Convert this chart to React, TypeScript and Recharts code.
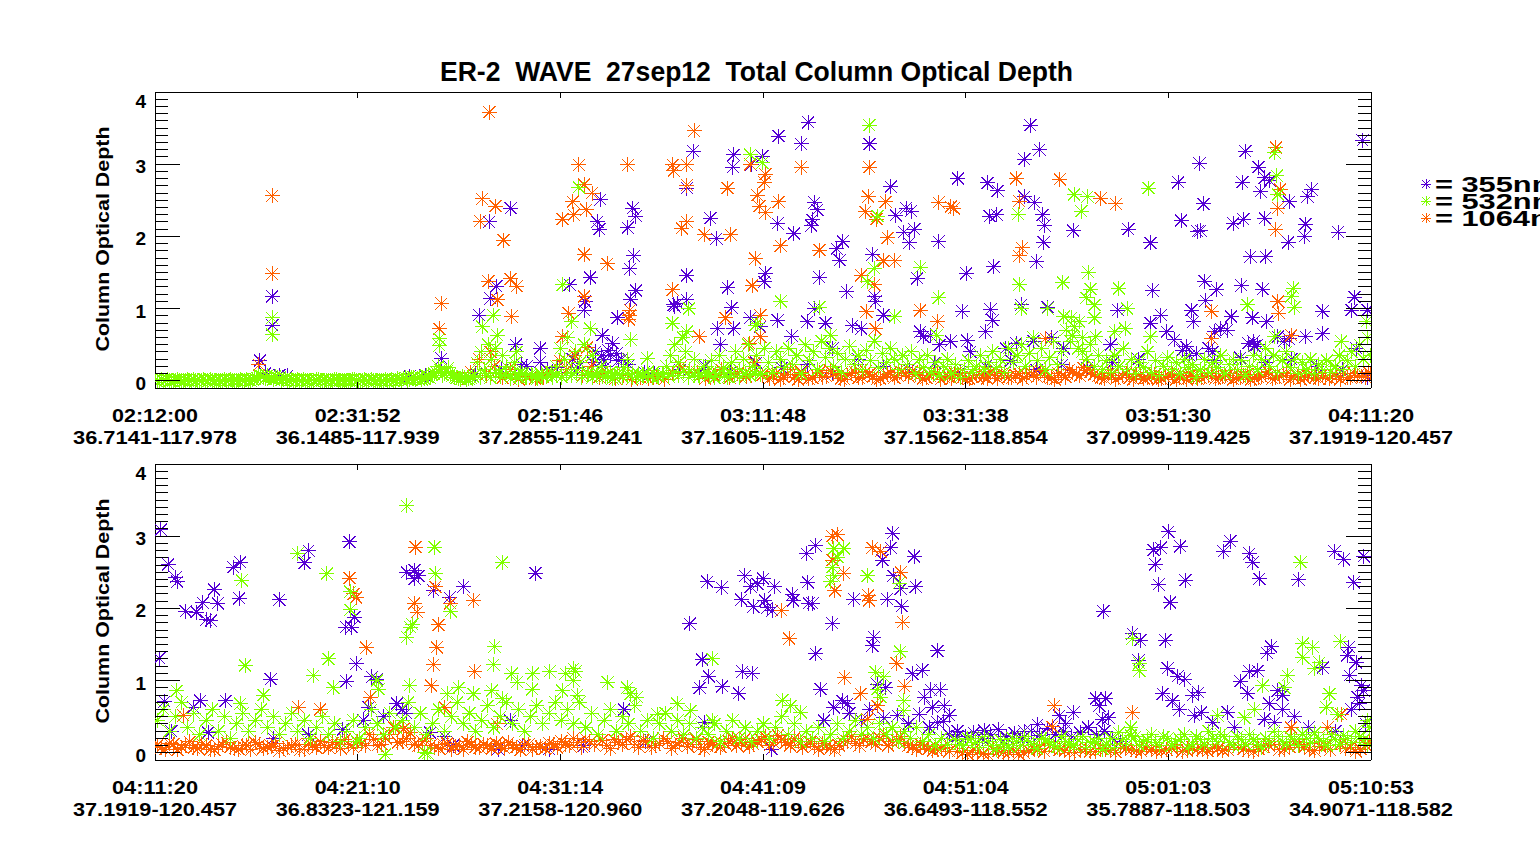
import React from 'react';
import { ScatterChart, Scatter, XAxis, YAxis, ReferenceLine } from 'recharts';

type Pt = [number, number];

// tick labels (time + lat/lon), evenly spaced along each panel
const TOP_TIMES = ['02:12:00', '02:31:52', '02:51:46', '03:11:48', '03:31:38', '03:51:30', '04:11:20'];
const TOP_PLACES = ['36.7141-117.978', '36.1485-117.939', '37.2855-119.241', '37.1605-119.152', '37.1562-118.854', '37.0999-119.425', '37.1919-120.457'];
const BOT_TIMES = ['04:11:20', '04:21:10', '04:31:14', '04:41:09', '04:51:04', '05:01:03', '05:10:53'];
const BOT_PLACES = ['37.1919-120.457', '36.8323-121.159', '37.2158-120.960', '37.2048-119.626', '36.6493-118.552', '35.7887-118.503', '34.9071-118.582'];
// minutes covered by each panel
const TOP_SPAN = 119.33;
const BOT_SPAN = 59.55;
const Y_MAJOR = [0, 1, 2, 3, 4];

const WAVELENGTHS = ['355nm', '532nm', '1064nm'];
const COLORS = ['#5500d4', '#80ff00', '#ff6000'];

// [minutes since panel start, optical depth]
const TOP_355: Pt[] = [
  [10.3,0.28],[10.8,0.1],[11.5,1.17],[11.5,0.77],[12.2,0.08],[13.0,0.07],[25.0,0.06],[26.5,0.07],[28.1,0.31],
  [31.8,0.91],[32.8,2.2],[32.9,1.14],[33.5,1.31],[34.9,2.39],[35.4,0.5],[37.8,0.45],[37.8,0.26],[40.7,1.33],[42.1,0.98],[42.2,1.1],
  [42.7,1.43],[43.4,2.2],[43.6,2.1],[43.7,2.51],[43.9,0.63],[44.7,0.35],[44.9,0.52],[45.4,0.87],[46.4,2.12],[46.6,1.55],
  [46.7,1.13],[46.9,2.39],[47.0,1.73],[47.2,2.28],[47.2,1.25],[50.9,1.05],[51.0,1.03],[51.3,1.07],[52.2,2.67],[52.2,1.46],
  [52.2,1.12],[52.8,3.18],[54.5,2.25],[55.1,1.97],[55.2,0.72],[55.5,0.5],[56.2,1.29],[56.6,1.01],[56.7,2.96],[56.8,3.13],
  [56.8,0.72],[58.4,0.87],[58.5,2.99],
  [36.0,0.22],[38.5,0.15],[39.5,0.18],[41.0,0.3],[43.0,0.25],[43.2,0.4],[43.8,0.35],[44.2,0.2],[44.5,0.42],[45.3,0.38],
  [45.5,0.28],[45.8,0.3],[48.0,0.12],
  [59.4,0.75],[59.6,3.11],[59.8,1.37],[59.9,1.49],[61.1,2.18],[61.1,0.84],[61.2,3.39],[62.5,0.62],[62.7,2.04],[63.4,3.28],
  [64.0,0.82],[64.1,3.58],[64.4,2.15],[64.5,2.23],[64.7,2.47],[64.7,1.0],[65.0,2.37],[65.2,1.43],[65.8,0.8],[66.5,0.45],
  [66.9,1.83],[67.2,1.67],[67.5,1.93],[67.9,1.23],[68.4,0.76],[69.3,0.72],[70.1,3.28],[70.4,1.75],[70.6,1.17],[70.7,1.1],
  [71.5,0.91],[72.2,2.69],[72.7,2.29],[73.5,2.06],[73.7,2.39],[74.0,1.91],[74.2,2.35],[74.5,2.1],[74.8,1.42],[75.1,0.68],
  [75.4,0.61],[76.1,0.63],[76.9,1.93],[77.0,0.5],[78.1,0.545],[78.8,2.8],[79.2,0.965],[79.6,1.49],[79.7,0.555],[80.0,0.4],
  [81.5,0.68],[81.7,2.74],[81.9,2.28],[82.0,0.99],[82.2,0.84],[82.3,1.58],[82.6,2.3],[82.7,2.63],[83.5,0.45],[84.5,0.52],
  [85.0,1.05],[85.3,3.07],[85.3,2.55],[85.9,3.54],[86.2,0.55],[86.3,2.47],[86.5,1.65],[86.8,3.2],[87.1,2.3],[87.2,1.92],
  [87.3,2.15],[87.6,1.02],[88.0,0.6],
  [89.2,0.45],[90.1,2.08],[93.8,0.5],[94.5,0.98],[95.5,2.1],[97.7,1.91],[97.7,0.8],[97.9,1.25],[98.7,0.91],[99.3,0.68],
  [100.0,0.565],[100.4,2.75],[100.7,2.22],[100.8,0.42],[101.2,0.47],[101.7,0.98],[101.9,0.82],[102.2,0.38],[102.3,2.07],[102.5,3.01],
  [102.6,2.08],[102.9,2.45],[103.0,1.38],[103.1,1.11],[103.4,0.45],[103.8,0.4],[104.0,0.68],[104.2,1.26],[104.6,0.72],[105.2,0.7],
  [105.6,0.89],[105.8,2.18],[106.6,1.32],[106.7,2.75],[106.8,2.24],[107.0,3.18],[107.3,0.52],[107.5,1.72],[107.7,0.87],[107.8,0.545],
  [107.9,0.48],[108.2,0.5],[108.3,2.96],[108.5,2.62],[108.7,1.27],[108.9,2.81],[108.9,2.25],[109.0,1.72],[109.1,0.82],[109.4,2.77],
  [110.2,0.61],[110.8,0.55],[111.2,1.92],[111.3,2.48],[111.3,0.58],[111.7,1.28],[112.8,2.0],[112.9,2.17],[112.9,0.61],[113.1,2.55],
  [113.5,2.65],[114.6,0.965],[114.6,0.65],[116.1,2.06],[117.4,0.98],[117.7,1.16],[117.9,0.45],[118.5,3.33],[119.0,0.98],
  [31.5,0.1],[34.0,0.15],[36.5,0.2],[39.0,0.12],[41.5,0.18],[44.0,0.3],[46.5,0.22],[49.0,0.1],[51.5,0.15],[54.0,0.2],
  [56.5,0.12],[59.0,0.25],[61.5,0.18],[64.0,0.22],[66.5,0.1],[69.0,0.3],[71.5,0.2],[74.0,0.15],[76.5,0.25],[79.0,0.12],
  [81.5,0.2],[84.0,0.28],[86.5,0.15],[89.0,0.22],[91.5,0.18],[94.0,0.25],[96.5,0.3],[99.0,0.2],[101.5,0.35],[104.0,0.28],
  [106.5,0.32],[109.0,0.25],[111.5,0.3],[114.0,0.2],[116.5,0.15],[119.0,0.05],
];

const TOP_532: Pt[] = [
  [11.5,0.87],[11.5,0.64],[27.9,0.58],[27.9,0.49],
  [32.1,0.75],[33.2,0.91],[33.6,0.63],[35.5,0.4],[40.0,1.33],[40.9,0.82],[41.6,2.68],[42.7,0.72],[46.7,0.565],[48.3,0.31],
  [50.8,0.8],[52.2,0.68],[52.4,1.0],[58.4,3.13],[58.9,0.77],
  [59.1,0.8],[59.6,3.02],[61.4,1.1],[65.2,1.02],[66.3,0.63],[69.9,1.37],[70.1,3.54],[70.6,1.56],[70.9,2.28],[72.6,0.89],
  [75.1,1.57],[76.7,0.63],[76.9,1.15],[84.7,2.31],[84.8,1.33],[85.0,1.0],[87.6,1.0],[89.1,1.36],[89.2,0.89],
  [89.9,0.87],[90.0,0.63],[90.2,2.58],[90.7,0.82],[90.9,2.35],[91.0,0.4],[91.4,1.15],[91.5,2.55],[91.6,1.5],[91.8,1.27],
  [92.2,1.05],[92.2,0.87],[92.3,0.61],[94.2,0.68],[94.6,1.28],[95.2,0.72],[95.4,1.0],[97.5,2.67],[97.7,0.61],[107.2,1.05],
  [109.9,3.16],[109.9,0.61],[110.1,2.84],[110.2,2.58],[111.5,1.17],[111.7,1.28],[111.8,1.02],[116.4,0.545],[118.9,0.82],
  // flat stretch at the start of the flight
  [0,0.01],[0.4,0],[0.8,0.01],[1.2,0.02],[1.6,0],[2,0.01],[2.4,0.01],[2.8,0],[3.2,0.02],[3.6,0.01],
  [4,0],[4.4,0.01],[4.8,0.02],[5.2,0],[5.6,0.01],[6,0.01],[6.4,0],[6.8,0.02],[7.2,0.01],[7.6,0],
  [8,0.01],[8.4,0.02],[8.8,0],[9.2,0.01],[9.6,0.02],[10,0.04],[10.4,0.06],[10.8,0.03],[11.2,0.05],[11.6,0.02],
  [12,0.04],[12.4,0.01],[12.8,0.03],[13.2,0],[13.6,0.01],[14,0.02],[14.4,0],[14.8,0.01],[15.2,0.01],[15.6,0],
  [16,0.02],[16.4,0.01],[16.8,0],[17.2,0.01],[17.6,0.02],[18,0],[18.4,0.01],[18.8,0.01],[19.2,0],[19.6,0.02],
  [20,0.01],[20.4,0],[20.8,0.01],[21.2,0.02],[21.6,0],[22,0.01],[22.4,0.01],[22.8,0],[23.2,0.02],[23.6,0.01],
  [24,0.02],[24.4,0.03],[24.8,0.01],[25.2,0.04],[25.6,0.02],[26,0.05],[26.4,0.03],[26.8,0.06],[27.2,0.08],[27.6,0.12],
  [28,0.15],[28.4,0.1],[28.8,0.18],[29.2,0.07],[29.6,0.04],[30,0.02],[30.4,0.05],[30.8,0.03],
  [0.2,0],[0.6,0.02],[1.0,0.01],[1.4,0],[1.8,0.01],[2.2,0.02],[2.6,0],[3.0,0.01],[3.4,0],[3.8,0.02],
  [4.2,0.01],[4.6,0],[5.0,0.01],[5.4,0.02],[5.8,0],[6.2,0.01],[6.6,0.01],[7.0,0],[7.4,0.02],[7.8,0.01],
  [8.2,0],[8.6,0.01],[9.0,0.02],[9.4,0],[9.8,0.03],[10.2,0.08],[10.6,0.05],[11.0,0.07],[11.4,0.04],[11.8,0.06],
  [12.2,0.03],[12.6,0.02],[13.0,0.01],[13.4,0.02],[13.8,0],[14.2,0.01],[14.6,0.02],[15.0,0],[15.4,0.01],[15.8,0.02],
  [16.2,0],[16.6,0.01],[17.0,0.01],[17.4,0],[17.8,0.02],[18.2,0.01],[18.6,0],[19.0,0.01],[19.4,0.02],[19.8,0],
  [20.2,0.01],[20.6,0.02],[21.0,0],[21.4,0.01],[21.8,0.01],[22.2,0],[22.6,0.02],[23.0,0.01],[23.4,0],[23.8,0.03],
  [24.2,0.01],[24.6,0.04],[25.0,0.02],[25.4,0.05],[25.8,0.03],[26.2,0.02],[26.6,0.07],[27.0,0.04],[27.4,0.1],[27.8,0.2],
  [28.2,0.08],[28.6,0.13],[29.0,0.1],[29.4,0.05],[29.8,0.03],[30.2,0.06],[30.6,0.02],[31.0,0.04],
  // dense low band
  [31.2,0.06],[31.6,0.25],[32.0,0.4],[32.3,0.15],[32.7,0.5],[33.0,0.3],[33.4,0.45],[33.8,0.12],[34.1,0.35],[34.5,0.2],
  [34.9,0.08],[35.3,0.25],[35.7,0.05],[36.1,0.1],[36.5,0.04],[37.0,0.08],[37.5,0.03],[38.0,0.06],[38.5,0.1],[39.0,0.05],
  [39.4,0.2],[39.8,0.45],[40.2,0.3],[40.5,0.6],[40.9,0.15],[41.3,0.4],[41.7,0.25],[42.1,0.5],[42.5,0.1],[42.9,0.35],
  [43.3,0.08],[43.8,0.2],[44.2,0.06],[44.7,0.12],[45.1,0.05],[45.6,0.09],[46.0,0.18],[46.4,0.3],[46.9,0.1],[47.3,0.05],
  [47.8,0.08],[48.3,0.12],[48.8,0.04],[49.3,0.07],[49.8,0.1],
  [31.4,0.08],[31.9,0.05],[32.4,0.1],[32.9,0.04],[33.4,0.12],[33.9,0.06],[34.4,0.09],[34.9,0.03],[35.4,0.07],[35.9,0.11],
  [36.4,0.05],[36.9,0.09],[37.4,0.04],[37.9,0.1],[38.4,0.06],[38.9,0.12],[39.4,0.08],[39.9,0.05],[40.4,0.1],[40.9,0.07],
  [41.4,0.12],[41.9,0.05],[42.4,0.09],[42.9,0.04],[43.4,0.11],[43.9,0.06],[44.4,0.08],[44.9,0.03],[45.4,0.1],[45.9,0.05],
  [46.4,0.09],[46.9,0.04],[47.4,0.1],[47.9,0.06],[48.4,0.08],[48.9,0.12],[49.4,0.05],[49.9,0.09],[50.4,0.06],[50.9,0.11],
  [51.4,0.07],[51.9,0.13],[52.4,0.05],[52.9,0.1],[53.4,0.06],[53.9,0.12],[54.4,0.08],[54.9,0.04],[55.4,0.1],[55.9,0.06],
  [56.4,0.12],[56.9,0.08],[57.4,0.05],[57.9,0.1],[58.4,0.07],[58.9,0.13],[59.4,0.09],
  [50.2,0.2],[50.6,0.35],[51.0,0.5],[51.4,0.25],[51.8,0.6],[52.1,0.4],[52.5,0.15],[52.9,0.3],[53.3,0.08],[53.8,0.2],
  [54.2,0.12],[54.6,0.28],[55.0,0.1],[55.4,0.35],[55.8,0.18],[56.2,0.05],[56.6,0.25],[57.0,0.4],[57.4,0.15],[57.8,0.3],
  [58.2,0.5],[58.6,0.2],[59.0,0.35],[59.4,0.1],[59.8,0.45],
  [60.2,0.25],[60.6,0.12],[61.0,0.4],[61.4,0.3],[61.8,0.18],[62.2,0.45],[62.6,0.22],[63.0,0.35],[63.4,0.1],[63.8,0.5],
  [64.2,0.28],[64.6,0.4],[65.0,0.15],[65.4,0.55],[65.8,0.32],[66.2,0.45],[66.6,0.2],[67.0,0.38],[67.4,0.12],[67.8,0.3],
  [68.2,0.48],[68.6,0.22],[69.0,0.35],[69.4,0.15],[69.8,0.42],[70.2,0.28],[70.6,0.55],[71.0,0.18],[71.4,0.38],[71.8,0.25],
  [72.2,0.45],[72.6,0.3],[73.0,0.15],[73.4,0.35],[73.8,0.22],[74.2,0.4],[74.6,0.1],[75.0,0.3],[75.4,0.18],[75.8,0.35],
  [76.2,0.12],[76.6,0.25],[77.0,0.08],[77.4,0.2],[77.8,0.3],[78.2,0.1],[78.6,0.22],[79.0,0.05],[79.4,0.15],[79.8,0.28],
  [80.2,0.12],[80.6,0.2],[81.0,0.35],[81.4,0.15],[81.8,0.25],[82.2,0.4],[82.6,0.18],[83.0,0.3],[83.4,0.12],[83.8,0.45],
  [84.2,0.25],[84.6,0.35],[85.0,0.5],[85.4,0.2],[85.8,0.38],[86.2,0.6],[86.6,0.28],[87.0,0.45],[87.4,0.15],[87.8,0.32],
  [88.2,0.55],[88.6,0.22],[89.0,0.4],[89.4,0.7],[89.8,0.55],[90.2,0.75],[90.6,0.45],[91.0,0.6],[91.4,0.3],[91.8,0.5],
  [92.2,0.2],[92.6,0.35],[93.0,0.15],
  [93.4,0.28],[93.8,0.12],[94.2,0.35],[94.6,0.2],[95.0,0.45],[95.4,0.15],[95.8,0.3],[96.2,0.1],[96.6,0.25],[97.0,0.18],
  [97.4,0.4],[97.8,0.12],[98.2,0.28],[98.6,0.08],[99.0,0.2],[99.4,0.32],[99.8,0.15],[100.2,0.25],[100.6,0.1],[101.0,0.3],
  [101.4,0.18],[101.8,0.22],[102.2,0.05],[102.6,0.15],[103.0,0.3],[103.4,0.12],[103.8,0.25],[104.2,0.18],[104.6,0.35],[105.0,0.1],
  [105.4,0.22],[105.8,0.3],[106.2,0.15],[106.6,0.28],[107.0,0.08],[107.4,0.2],[107.8,0.35],[108.2,0.15],[108.6,0.3],[109.0,0.45],
  [109.4,0.2],[109.8,0.35],[110.2,0.12],[110.6,0.28],[111.0,0.4],[111.4,0.18],[111.8,0.3],[112.2,0.1],[112.6,0.25],[113.0,0.15],
  [113.4,0.3],[113.8,0.1],[114.2,0.22],[114.6,0.15],[115.0,0.28],[115.4,0.12],[115.8,0.2],[116.2,0.35],[116.6,0.15],[117.0,0.28],
  [117.4,0.4],[117.8,0.2],[118.2,0.5],[118.6,0.3],[119.0,0.6],[119.3,0.35],
];

const TOP_1064: Pt[] = [
  [10.2,0.22],[11.5,2.56],[11.5,1.48],[27.9,0.72],[28.1,1.07],
  [31.9,2.21],[32.1,2.52],[32.7,1.38],[32.8,3.72],[32.9,0.4],[33.4,2.42],[33.6,1.12],[34.2,1.95],[34.9,1.41],[35.0,0.89],
  [35.5,1.31],[40.0,2.24],[40.0,0.61],[40.6,0.935],[41.0,2.48],[41.1,2.3],[41.6,2.99],[42.1,2.72],[42.1,1.75],[42.1,1.17],
  [42.3,2.37],[42.4,0.46],[42.9,2.6],[44.4,1.62],[46.4,2.99],[46.5,0.85],[46.6,0.98],[46.6,0.9],[50.8,2.99],[50.8,1.26],
  [50.9,2.91],[51.7,2.11],[52.2,2.99],[52.2,2.71],[52.2,2.2],[52.9,3.46],[53.4,0.61],[53.9,2.02],[56.0,0.87],[56.2,2.67],
  [56.5,2.02],[58.3,0.52],[58.4,3.0],[58.6,1.32],[58.9,1.69],
  [59.1,2.57],[59.3,2.42],[59.4,0.91],[59.4,0.61],[59.8,2.75],[59.9,2.86],[59.9,2.33],[61.2,2.48],[61.4,1.87],[63.4,2.96],
  [65.2,1.81],[69.3,1.46],[69.7,2.34],[69.8,0.955],[70.0,2.55],[70.1,2.96],[70.6,1.33],[70.7,0.72],[70.8,2.24],[71.5,1.66],
  [71.7,2.48],[71.9,1.98],[72.6,1.66],[75.1,0.975],[76.8,0.82],[76.9,2.47],[78.1,2.41],[78.4,2.39],[84.5,2.8],[84.8,2.49],
  [84.8,1.73],[85.1,1.84],[87.4,0.585],[88.8,2.79],
  [92.8,2.53],[94.3,2.45],[103.7,0.965],[103.7,0.585],[110.0,3.23],[110.0,2.09],[110.2,2.39],[110.2,1.1],[110.3,0.935],[110.4,2.65],
  [111.5,0.63],
  [30.2,0.05],[31.0,0.12],[31.8,0.3],[32.5,0.08],[33.3,0.2],[34.1,0.04],[34.9,0.15],[35.7,0.02],[36.5,0.06],[37.3,0.03],
  [38.1,0.05],[38.9,0.1],[39.7,0.28],[40.4,0.15],[41.2,0.35],[42.0,0.08],[42.8,0.2],[43.6,0.05],[44.4,0.1],[45.2,0.03],
  [46.0,0.08],[46.8,0.02],[47.6,0.05],[48.4,0.03],[49.2,0.06],[50.0,0.02],[50.8,0.1],[51.6,0.2],[52.4,0.05],[53.2,0.12],
  [54.0,0.03],[54.8,0.08],[55.6,0.15],[56.4,0.04],[57.2,0.1],[58.0,0.06],[58.8,0.25],[59.6,0.08],
  [60.3,0.03],[61.0,0.1],[61.7,0.05],[62.4,0.15],[63.1,0.02],[63.8,0.08],[64.5,0.04],[65.2,0.12],[65.9,0.06],[66.6,0.1],
  [67.3,0.03],[68.0,0.07],[68.7,0.12],[69.4,0.05],[70.1,0.09],[70.8,0.02],[71.5,0.06],[72.2,0.11],[72.9,0.07],[73.6,0.1],
  [74.3,0.13],[75.0,0.08],[75.7,0.04],[76.4,0.09],[77.1,0.02],[77.8,0.06],[78.5,0.1],[79.2,0.04],[79.9,0.03],[80.6,0.07],
  [81.3,0.05],[82.0,0.12],[82.7,0.03],[83.4,0.08],[84.1,0.04],[84.8,0.1],[85.5,0.06],[86.2,0.09],[86.9,0.14],[87.6,0.05],
  [88.3,0.02],[89.0,0.08],[89.7,0.15],[90.4,0.1],[91.1,0.18],[91.8,0.12],[92.5,0.06],[93.2,0.03],[93.9,0.08],[94.6,0.05],
  [95.3,0.1],[96.0,0.02],[96.7,0.06],[97.4,0.04],[98.1,0.09],[98.8,0.03],[99.5,0.07],[100.2,0.02],[100.9,0.05],[101.6,0.08],
  [102.3,0.03],[103.0,0.06],[103.7,0.1],[104.4,0.04],[105.1,0.07],[105.8,0.02],[106.5,0.05],[107.2,0.09],[107.9,0.03],[108.6,0.06],
  [109.3,0.12],[110.0,0.04],[110.7,0.08],[111.4,0.02],[112.1,0.06],[112.8,0.04],[113.5,0.09],[114.2,0.03],[114.9,0.05],[115.6,0.08],
  [116.3,0.02],[117.0,0.05],[117.7,0.1],[118.4,0.06],[119.1,0.12],
  [60.65,0.06],[61.35,0.02],[62.05,0.09],[62.75,0.05],[63.45,0.12],[64.15,0.03],[64.85,0.08],[65.55,0.05],[66.25,0.14],[66.95,0.07],
  [67.65,0.02],[68.35,0.1],[69.05,0.04],[69.75,0.13],[70.45,0.06],[71.15,0.03],[71.85,0.09],[72.55,0.04],[73.25,0.12],[73.95,0.06],
  [74.65,0.09],[75.35,0.03],[76.05,0.07],[76.75,0.11],[77.45,0.05],[78.15,0.03],[78.85,0.07],[79.55,0.02],[80.25,0.05],[80.95,0.09],
  [81.65,0.03],[82.35,0.07],[83.05,0.1],[83.75,0.05],[84.45,0.08],[85.15,0.03],[85.85,0.12],[86.55,0.05],[87.25,0.08],[87.95,0.04],
  [88.65,0.1],[89.35,0.05],[90.05,0.12],[90.75,0.07],[91.45,0.14],[92.15,0.09],[92.85,0.05],[93.55,0.1],[94.25,0.02],[94.95,0.07],
  [95.65,0.04],[96.35,0.09],[97.05,0.03],[97.75,0.06],[98.45,0.02],[99.15,0.05],[99.85,0.09],[100.55,0.04],[101.25,0.02],[101.95,0.06],
  [102.65,0.04],[103.35,0.08],[104.05,0.03],[104.75,0.06],[105.45,0.1],[106.15,0.04],[106.85,0.07],[107.55,0.02],[108.25,0.05],[108.95,0.09],
  [109.65,0.03],[110.35,0.06],[111.05,0.1],[111.75,0.05],[112.45,0.02],[113.15,0.07],[113.85,0.05],[114.55,0.08],[115.25,0.03],[115.95,0.06],
  [116.65,0.1],[117.35,0.04],[118.05,0.08],[118.75,0.05],[119.25,0.1],
];

const BOT_355: Pt[] = [
  [0.29,3.09],[0.65,2.61],[1.01,2.43],[1.09,2.37],[1.5,1.96],[2.04,1.95],[2.34,2.08],[2.5,1.84],[2.73,1.83],[2.89,2.26],
  [3.07,2.07],[3.84,2.57],[4.17,2.64],[4.12,2.14],[6.09,2.12],[7.32,2.63],[7.52,2.8],[9.53,2.92],[9.35,1.74],[9.64,1.74],
  [9.77,1.88],[9.85,1.23],[9.36,0.99],[12.34,2.5],[12.71,2.53],[12.71,2.41],[12.9,2.45],[13.64,2.25],[14.43,2.15],[15.11,2.3],
  [18.63,2.49],[0.21,1.31],[0.46,0.71],[5.67,1.02],[3.46,0.72],[2.21,0.72],[1.88,0.63],[10.62,1.05],[10.87,1.02],[10.46,0.63],
  [13.48,0.28],[17.4,0.445],[11.85,0.68],[12.3,0.55],[12.1,0.6],
  [0.8,0.3],[2.6,0.28],[5.8,0.2],[7.5,0.25],[9.2,0.32],[10.2,0.45],[11.2,0.5],[16.8,0.05],[19.3,0.05],[18.0,0.1],[14.2,0.22],
  [21.0,0.1],[24.0,0.15],[30.2,0.05],[14.6,0.1],
  [36.14,3.04],[36.03,2.84],[35.62,2.67],[37.17,2.72],[32.35,2.87],[31.91,2.76],[27.04,2.37],[27.75,2.29],[28.89,2.45],[29.17,2.3],
  [29.5,2.34],[29.78,2.41],[30.34,2.3],[28.7,2.12],[29.3,2.02],[29.87,2.11],[29.98,2.01],[30.23,1.97],[31.2,2.19],[31.25,2.11],
  [31.97,2.36],[32.02,2.07],[32.2,2.07],[34.23,2.13],[35.86,2.13],[36.57,2.03],[36.16,2.45],[36.52,2.27],[37.25,2.3],[33.17,1.79],
  [26.19,1.79],[32.35,1.37],[35.21,1.6],[35.13,1.48],[38.32,1.41],[26.79,1.29],[27.12,1.06],[26.68,0.9],[27.78,0.92],[28.59,0.825],
  [28.76,1.125],[29.25,1.105],[32.6,0.88],[37.09,1.095],[37.58,1.145],[37.99,0.87],[38.45,0.87],[37.66,0.77],[38.64,0.65],[38.07,0.63],
  [37.42,0.535],[38.32,0.42],[37.91,0.35],[33.25,0.63],[33.66,0.72],[33.9,0.68],[35.38,0.95],[35.78,0.9],[35.7,0.485],[36.36,0.515],
  [26.9,0.42],[22.96,0.6],[32.76,0.445],[39.3,0.23],[34.0,0.55],[34.6,0.45],[35.0,0.6],[36.9,0.4],[38.9,0.52],[38.6,0.44],
  [49.62,3.06],[48.9,2.81],[49.26,2.84],[50.21,2.86],[48.98,2.61],[49.15,2.33],[50.46,2.39],[49.71,2.08],[46.44,1.96],[47.87,1.65],
  [48.25,1.56],[49.48,1.56],[48.17,1.28],[49.59,1.17],[50.08,1.06],[50.44,1.02],[49.35,0.815],[49.84,0.72],[50.16,0.6],[50.82,0.8],
  [51.1,0.835],[51.23,0.56],[50.9,0.515],[52.32,2.79],[52.66,2.93],[53.59,2.76],[53.76,2.64],[54.08,2.41],[56.0,2.4],[57.76,2.79],
  [58.22,2.68],[59.2,2.72],[58.71,2.36],[54.66,1.47],[54.46,1.38],[53.59,1.125],[54.0,1.135],[53.15,0.99],[53.51,0.825],[54.57,0.68],
  [54.98,0.86],[55.22,0.8],[55.22,0.6],[57.19,1.18],[58.46,1.465],[58.38,1.35],[58.82,1.25],[58.5,1.07],[59.07,0.93],[58.9,0.77],
  [58.99,0.68],[58.58,0.6],[46.08,0.75],[46.57,0.75],[46.24,0.65],[46.4,0.465],[46.7,0.485],[44.28,0.515],[44.98,0.56],[43.22,0.39],
  [44.61,0.4],[51.8,0.42],[52.53,0.56],[52.86,0.35],[54.33,0.465],[54.82,0.42],[42.56,0.3],[40.6,0.31],[59.2,0.86],
  [56.5,0.35],[57.8,0.3],[59.3,0.4],[55.8,0.5],
  [38.9,0.25],[39.3,0.3],[39.7,0.22],[40.1,0.28],[40.5,0.2],[40.9,0.25],[41.3,0.32],[41.7,0.22],[42.1,0.27],[42.5,0.2],
  [42.9,0.3],[43.3,0.24],[43.7,0.34],[44.1,0.26],[44.5,0.3],[44.9,0.22],[45.3,0.28],[45.7,0.35],[46.1,0.25],[46.5,0.3],
  [46.9,0.2],[47.3,0.15],
];

const BOT_532: Pt[] = [
  [12.34,3.42],[13.69,2.85],[13.73,2.48],[17.0,2.64],[6.99,2.76],[8.42,2.48],[4.25,2.39],[14.49,1.96],[9.56,2.23],[9.56,1.98],
  [12.5,1.74],[12.6,1.78],[12.34,1.6],[16.63,1.47],[16.58,1.22],[4.41,1.21],[8.5,1.3],[7.76,1.07],[17.48,1.095],[18.5,1.095],
  [19.33,1.125],[20.1,1.095],[20.6,1.125],[17.73,0.98],[10.87,1.0],[10.95,0.88],[8.74,0.9],[12.47,0.93],[14.87,0.9],[18.47,0.88],
  [19.94,0.86],[1.06,0.86],[5.31,0.8],[14.3,0.815],[15.6,0.815],[16.5,0.86],[17.0,0.75],[11.27,-0.02],[13.2,0.0],[13.35,-0.01],
  [9.89,0.15],[4.17,0.68],
  [33.25,2.83],[33.74,2.83],[33.42,2.71],[33.17,2.57],[33.25,2.45],[33.09,2.37],[34.89,2.45],[36.44,2.35],[27.29,1.3],[36.49,1.4],
  [35.29,1.115],[35.7,1.05],[22.17,0.98],[20.5,1.165],[20.5,1.0],[23.12,0.9],[23.28,0.815],[23.6,0.77],[20.67,0.8],[30.72,0.73],
  [31.13,0.65],[25.57,0.68],[31.62,0.56],[35.38,0.88],[35.54,0.77],[36.68,0.72],[36.68,0.58],[27.29,0.445],[24.59,0.535],[26.23,0.58],
  [56.1,2.64],[47.87,1.58],[48.2,1.24],[48.2,1.135],[56.21,1.51],[56.7,1.465],[56.21,1.32],[57.02,1.25],[56.78,1.165],[58.05,1.54],
  [55.47,1.07],[55.31,0.9],[54.25,0.93],[53.84,0.6],[53.35,0.485],[52.04,0.515],[57.52,0.815],[57.35,0.63],[57.92,0.535],[59.4,0.445],
  [47.79,0.35],
  [0.1,0.45],[0.4,0.6],[0.7,0.3],[1.0,0.5],[1.3,0.7],[1.6,0.35],[1.9,0.55],[2.2,0.25],[2.5,0.45],[2.8,0.6],
  [3.1,0.3],[3.4,0.5],[3.7,0.2],[4.0,0.4],[4.3,0.55],[4.6,0.3],[4.9,0.45],[5.2,0.6],[5.5,0.35],[5.8,0.5],
  [6.1,0.25],[6.4,0.4],[6.7,0.55],[7.0,0.3],[7.3,0.45],[7.6,0.2],[7.9,0.35],[8.2,0.5],[8.5,0.25],[8.8,0.4],
  [9.1,0.15],[9.4,0.3],[9.7,0.45],[10.0,0.2],[10.3,0.35],[10.6,0.6],[10.9,0.4],[11.2,0.25],[11.5,0.55],[11.8,0.35],
  [12.1,0.45],[12.4,0.7],[12.7,0.35],[13.0,0.55],[13.3,0.25],[13.6,0.4],[13.9,0.6],[14.2,0.3],[14.5,0.5],[14.8,0.7],
  [15.1,0.4],[15.4,0.55],[15.7,0.3],[16.0,0.45],[16.3,0.65],[16.6,0.35],[16.9,0.5],[17.2,0.7],[17.5,0.4],[17.8,0.6],
  [18.1,0.3],[18.4,0.5],[18.7,0.65],[19.0,0.4],[19.3,0.55],[19.6,0.7],[19.9,0.45],
  [20.2,0.6],[20.5,0.4],[20.8,0.7],[21.1,0.35],[21.4,0.55],[21.7,0.25],[22.0,0.45],[22.3,0.6],[22.6,0.3],[22.9,0.5],
  [23.2,0.4],[23.5,0.65],[23.8,0.3],[24.1,0.45],[24.4,0.2],[24.7,0.4],[25.0,0.55],[25.3,0.3],[25.6,0.45],[25.9,0.25],
  [26.2,0.4],[26.5,0.2],[26.8,0.35],
  [27.1,0.25],[27.4,0.4],[27.7,0.15],[28.0,0.3],[28.3,0.45],[28.6,0.2],[28.9,0.35],[29.2,0.15],[29.5,0.3],[29.8,0.4],
  [30.1,0.2],[30.4,0.35],[30.7,0.5],[31.0,0.25],[31.3,0.4],[31.6,0.15],[31.9,0.3],[32.2,0.2],[32.5,0.35],[32.8,0.15],
  [33.1,0.25],[33.4,0.4],[33.7,0.2],[34.0,0.3],[34.3,0.45],[34.6,0.25],[34.9,0.35],[35.2,0.2],[35.5,0.4],[35.8,0.25],
  [36.1,0.35],[36.4,0.15],[36.7,0.3],[37.0,0.2],[37.3,0.35],[37.6,0.15],[37.9,0.25],[38.2,0.1],[38.5,0.2],[38.8,0.12],
  [39.2,0.18],[39.6,0.1],[40.0,0.2],[40.4,0.08],[40.8,0.15],[41.2,0.05],[41.6,0.12],[42.0,0.2],[42.4,0.1],[42.8,0.15],
  [43.2,0.06],[43.6,0.18],[44.0,0.1],[44.4,0.22],[44.8,0.12],[45.2,0.18],[45.6,0.08],[46.0,0.15],[46.4,0.05],[46.8,0.2],
  [47.2,0.28],[47.6,0.12],[48.0,0.22],[48.4,0.15],[48.8,0.25],[49.2,0.1],[49.6,0.2],[50.0,0.15],[50.4,0.25],[50.8,0.12],
  [51.2,0.18],[51.6,0.3],[52.0,0.15],[52.4,0.22],[52.8,0.1],[53.2,0.18],[53.6,0.25],[54.0,0.12],[54.4,0.2],[54.8,0.3],
  [55.2,0.15],[55.6,0.22],[56.0,0.1],[56.4,0.2],[56.8,0.28],[57.2,0.15],[57.6,0.25],[58.0,0.12],[58.4,0.2],[58.8,0.3],
  [59.2,0.18],[59.5,0.35],
  [39.4,0.12],[39.8,0.2],[40.2,0.14],[40.6,0.22],[41.0,0.1],[41.4,0.18],[41.8,0.08],[42.2,0.15],[42.6,0.22],[43.0,0.12],
  [43.4,0.2],[43.8,0.14],[44.2,0.08],[44.6,0.16],[45.0,0.1],[45.4,0.22],[45.8,0.14],[46.2,0.2],[46.6,0.12],[47.0,0.08],
  [47.4,0.18],[47.8,0.24],[48.2,0.1],[48.6,0.18],[49.0,0.14],[49.4,0.22],[49.8,0.1],[50.2,0.18],[50.6,0.08],[51.0,0.22],
  [51.4,0.12],[51.8,0.2],[52.2,0.26],[52.6,0.14],[53.0,0.22],[53.4,0.12],[53.8,0.18],[54.2,0.08],[54.6,0.15],[55.0,0.22],
  [55.4,0.12],[55.8,0.18],[56.2,0.26],[56.6,0.14],[57.0,0.2],[57.4,0.1],[57.8,0.18],[58.2,0.24],[58.6,0.14],[59.0,0.22],
  [59.4,0.12],
];

const BOT_1064: Pt[] = [
  [12.75,2.85],[9.53,2.42],[9.72,2.2],[9.85,2.15],[12.7,2.07],[12.84,1.95],[13.73,2.3],[14.46,2.07],[15.6,2.11],[13.89,1.77],
  [10.34,1.455],[13.8,1.46],[13.64,1.22],[13.53,0.93],[15.65,1.125],[10.54,0.77],[7.03,0.63],[8.09,0.6],[1.39,0.515],[14.2,0.63],
  [12.17,0.33],[16.75,0.4],
  [33.17,3.0],[33.42,3.02],[35.13,2.84],[35.54,2.79],[33.17,2.67],[33.74,2.49],[36.52,2.5],[33.3,2.25],[34.93,2.18],[34.97,2.11],
  [30.67,1.97],[36.63,1.81],[31.05,1.58],[36.32,1.24],[33.77,1.04],[36.7,0.92],[34.56,0.815],[34.88,0.465],[35.38,0.65],
  [44.03,0.65],[47.87,0.555],[43.95,0.36],[58.09,0.535],[57.43,0.35],[55.64,0.35],
  [0.1,0.1],[0.5,0.05],[0.9,0.12],[1.3,0.08],[1.7,0.15],[2.1,0.06],[2.5,0.1],[2.9,0.04],[3.3,0.12],[3.7,0.08],
  [4.1,0.05],[4.5,0.1],[4.9,0.14],[5.3,0.06],[5.7,0.09],[6.1,0.03],[6.5,0.08],[6.9,0.12],[7.3,0.05],[7.7,0.1],
  [8.1,0.15],[8.5,0.07],[8.9,0.11],[9.3,0.18],[9.7,0.08],[10.1,0.13],[10.5,0.25],[10.9,0.1],[11.3,0.2],[11.7,0.35],
  [12.1,0.15],[12.5,0.28],[12.9,0.1],[13.3,0.2],[13.7,0.08],[14.1,0.12],[14.5,0.05],[14.9,0.1],[15.3,0.15],[15.7,0.08],
  [16.1,0.12],[16.5,0.06],[16.9,0.1],[17.3,0.14],[17.7,0.08],[18.1,0.11],[18.5,0.05],[18.9,0.09],[19.3,0.13],[19.7,0.07],
  [20.1,0.12],[20.5,0.2],[20.9,0.08],[21.3,0.15],[21.7,0.25],[22.1,0.1],[22.5,0.18],[22.9,0.12],[23.3,0.22],[23.7,0.08],
  [24.1,0.15],[24.5,0.1],[24.9,0.2],[25.3,0.06],[25.7,0.14],[26.1,0.09],[26.5,0.18],[26.9,0.05],[27.3,0.12],[27.7,0.08],
  [28.1,0.16],[28.5,0.1],[28.9,0.2],[29.3,0.12],[29.7,0.18],[30.1,0.1],[30.5,0.24],[30.9,0.14],[31.3,0.2],[31.7,0.08],
  [32.1,0.15],[32.5,0.05],[32.9,0.1],[33.3,0.04],[33.7,0.15],[34.1,0.22],[34.5,0.1],[34.9,0.2],[35.3,0.12],[35.7,0.25],
  [36.1,0.15],[36.5,0.22],[36.9,0.1],[37.3,0.05],[37.7,0.1],[38.1,0.03],[38.5,0.06],[38.9,0.02],
  [0.3,0.07],[0.7,0.13],[1.1,0.04],[1.5,0.1],[1.9,0.07],[2.3,0.12],[2.7,0.05],[3.1,0.09],[3.5,0.14],[3.9,0.06],
  [4.3,0.1],[4.7,0.04],[5.1,0.11],[5.5,0.08],[5.9,0.13],[6.3,0.06],[6.7,0.1],[7.1,0.04],[7.5,0.12],[7.9,0.07],
  [8.3,0.1],[8.7,0.14],[9.1,0.06],[9.5,0.11],[9.9,0.16],[10.3,0.1],[10.7,0.18],[11.1,0.12],[11.5,0.26],[11.9,0.14],
  [12.3,0.2],[12.7,0.12],[13.1,0.16],[13.5,0.1],[13.9,0.06],[14.3,0.13],[14.7,0.09],[15.1,0.05],[15.5,0.12],[15.9,0.07],
  [16.3,0.1],[16.7,0.13],[17.1,0.06],[17.5,0.1],[17.9,0.04],[18.3,0.12],[18.7,0.08],[19.1,0.06],[19.5,0.11],[19.9,0.16],
  [20.3,0.1],[20.7,0.14],[21.1,0.19],[21.5,0.11],[21.9,0.17],[22.3,0.06],[22.7,0.14],[23.1,0.19],[23.5,0.12],[23.9,0.17],
  [24.3,0.08],[24.7,0.13],[25.1,0.16],[25.5,0.1],[25.9,0.2],[26.3,0.12],[26.7,0.08],[27.1,0.15],[27.5,0.1],[27.9,0.13],
  [28.3,0.2],[28.7,0.14],[29.1,0.09],[29.5,0.15],[29.9,0.22],[30.3,0.14],[30.7,0.18],[31.1,0.1],[31.5,0.15],[31.9,0.12],
  [32.3,0.09],[32.7,0.13],[33.1,0.07],[33.5,0.1],[33.9,0.16],[34.3,0.13],[34.7,0.18],[35.1,0.15],[35.5,0.2],[35.9,0.1],
  [36.3,0.18],[36.7,0.13],[37.1,0.08],[37.5,0.12],[37.9,0.06],[38.3,0.04],[38.7,0.08],
  [39.3,0.02],[39.8,-0.02],[40.3,0.01],[40.8,-0.03],[41.3,0.02],[41.8,0],[42.3,-0.02],[42.8,0.03],[43.3,0.06],[43.8,0.1],
  [44.3,0.04],[44.8,0.01],[45.3,0.05],[45.8,0.02],[46.3,0.06],[46.8,0.03],[47.3,0.08],[47.8,0.04],[48.3,0.02],[48.8,0.05],
  [49.3,0.03],[49.8,0.06],[50.3,0.02],[50.8,0.08],[51.3,0.04],[51.8,0.07],[52.3,0.03],[52.8,0.1],[53.3,0.05],[53.8,0.02],
  [54.3,0.08],[54.8,0.12],[55.3,0.05],[55.8,0.15],[56.3,0.08],[56.8,0.03],[57.3,0.1],[57.8,0.18],[58.3,0.06],[58.8,0.02],
  [59.3,0.1],
  [39.55,0.0],[40.05,0.03],[40.55,-0.01],[41.05,0.04],[41.55,0.01],[42.05,0.03],[42.55,0],[43.05,0.05],[43.55,0.02],[44.05,0.07],
  [44.55,0.03],[45.05,0.01],[45.55,0.04],[46.05,0.02],[46.55,0.05],[47.05,0.01],[47.55,0.06],[48.05,0.03],[48.55,0.07],[49.05,0.02],
  [49.55,0.04],[50.05,0.08],[50.55,0.03],[51.05,0.05],[51.55,0.02],[52.05,0.06],[52.55,0.04],[53.05,0.08],[53.55,0.03],[54.05,0.05],
  [54.55,0.1],[55.05,0.04],[55.55,0.08],[56.05,0.12],[56.55,0.05],[57.05,0.09],[57.55,0.04],[58.05,0.12],[58.55,0.08],[59.05,0.05],
  [59.5,0.14],
];

const PLOT_W = 1216;
const PLOT_H = 296;
const FONT = "'Liberation Sans', Arial, Helvetica, sans-serif";

const toRows = (pts: Pt[]) => pts.map(([t, v]) => ({ t, v }));

function starPath(cx: number, cy: number, r: number) {
  const d = r * 0.8;
  return `M${cx - r},${cy}H${cx + r}M${cx},${cy - r}V${cy + r}` +
    `M${cx - d},${cy - d}L${cx + d},${cy + d}M${cx - d},${cy + d}L${cx + d},${cy - d}`;
}

const starShape = (color: string) => (props: any) => (
  <path d={starPath(props.cx, props.cy, 7.5)} stroke={color} strokeWidth={1} fill="none" shapeRendering="crispEdges" />
);

interface PanelProps {
  top: number;
  height: number;
  span: number;
  times: string[];
  places: string[];
  series: Pt[][];
}

function Panel({ top, height, span, times, places, series }: PanelProps) {
  const xTicks = times.map((_, i) => (i * span) / (times.length - 1));
  const yTicks = Array.from({ length: 42 }, (_, i) => (i - 1) / 10);

  const renderXTick = (props: any) => {
    const { x, y, payload } = props;
    const i = xTicks.findIndex((t) => Math.abs(t - payload.value) < 1e-6);
    return (
      <g>
        <line x1={x} x2={x} y1={y} y2={y - 6} stroke="#000" shapeRendering="crispEdges" />
        <line x1={x} x2={x} y1={y - PLOT_H} y2={y - PLOT_H + 6} stroke="#000" shapeRendering="crispEdges" />
        <text x={x} y={y + 34} textAnchor="middle" fontFamily={FONT} fontWeight="bold" fontSize={19}
          textLength={86} lengthAdjust="spacingAndGlyphs" fill="#000">{times[i]}</text>
        <text x={x} y={y + 56} textAnchor="middle" fontFamily={FONT} fontWeight="bold" fontSize={19}
          textLength={164} lengthAdjust="spacingAndGlyphs" fill="#000">{places[i]}</text>
      </g>
    );
  };

  const renderYTick = (props: any) => {
    const { x, y, payload } = props;
    const v = payload.value;
    const major = Y_MAJOR.some((m) => Math.abs(m - v) < 1e-9);
    const len = major ? 25 : 13;
    return (
      <g>
        <line x1={x} x2={x + len} y1={y} y2={y} stroke="#000" shapeRendering="crispEdges" />
        <line x1={x + PLOT_W} x2={x + PLOT_W - len} y1={y} y2={y} stroke="#000" shapeRendering="crispEdges" />
        {major && (
          <text x={x - 9} y={y + (Math.round(v) === 4 ? 16 : 9)} textAnchor="end" fontFamily={FONT}
            fontWeight="bold" fontSize={19} fill="#000">{Math.round(v)}</text>
        )}
      </g>
    );
  };

  // draw order: 355, 1064, then 532 on top
  const order = [0, 2, 1];

  return (
    <div style={{ position: 'absolute', left: 0, top, width: 1540, height }}>
      <ScatterChart width={1540} height={height}
        margin={{ top: 92, left: 154, right: 1540 - 155 - PLOT_W, bottom: height - 92 - PLOT_H - 1 }}>
        <XAxis dataKey="t" type="number" domain={[0, span]} ticks={xTicks} interval={0} height={1}
          tickSize={0} tickMargin={0} axisLine={false} allowDataOverflow tick={renderXTick} />
        <YAxis dataKey="v" type="number" domain={[-0.1, 4]} ticks={yTicks} interval={0} width={1}
          tickSize={0} tickMargin={0} axisLine={false} allowDataOverflow tick={renderYTick} />
        {order.map((k) => (
          <Scatter key={WAVELENGTHS[k]} name={WAVELENGTHS[k]} data={toRows(series[k])}
            shape={starShape(COLORS[k])} isAnimationActive={false} />
        ))}
        <ReferenceLine y={4} stroke="#000" shapeRendering="crispEdges" />
        <ReferenceLine y={-0.1} stroke="#000" shapeRendering="crispEdges" />
        <ReferenceLine x={0} stroke="#000" shapeRendering="crispEdges" />
        <ReferenceLine x={span} stroke="#000" shapeRendering="crispEdges" />
      </ScatterChart>
    </div>
  );
}

export default function App() {
  const legendY = [192, 209, 226];
  const legendLen = [124, 124, 141];
  return (
    <div style={{ position: 'absolute', left: 0, top: 0, width: 1540, height: 845, overflow: 'hidden', background: '#fff' }}>
      <Panel top={0} height={460} span={TOP_SPAN} times={TOP_TIMES} places={TOP_PLACES}
        series={[TOP_355, TOP_532, TOP_1064]} />
      <Panel top={372} height={473} span={BOT_SPAN} times={BOT_TIMES} places={BOT_PLACES}
        series={[BOT_355, BOT_532, BOT_1064]} />
      <svg width={1540} height={845} style={{ position: 'absolute', left: 0, top: 0, pointerEvents: 'none' }}>
        <text x={440} y={81} fontFamily={FONT} fontWeight="bold" fontSize={27.5} textLength={633}
          lengthAdjust="spacingAndGlyphs" style={{ whiteSpace: 'pre' }} fill="#000">
          ER-2  WAVE  27sep12  Total Column Optical Depth
        </text>
        {[239, 611].map((cy) => (
          <text key={cy} x={109} y={cy} transform={`rotate(-90 109 ${cy})`} textAnchor="middle" fontFamily={FONT}
            fontWeight="bold" fontSize={19} textLength={225} lengthAdjust="spacingAndGlyphs" fill="#000">
            Column Optical Depth
          </text>
        ))}
        {WAVELENGTHS.map((w, k) => (
          <g key={w}>
            <path d={starPath(1426, legendY[k] - 8, 5)} stroke={COLORS[k]} strokeWidth={1} fill="none" shapeRendering="crispEdges" />
            <text x={1435} y={legendY[k]} fontFamily={FONT} fontWeight="bold" fontSize={22} textLength={legendLen[k]}
              lengthAdjust="spacingAndGlyphs" style={{ whiteSpace: 'pre' }} fill="#000">{`= ${w}`}</text>
          </g>
        ))}
      </svg>
    </div>
  );
}
